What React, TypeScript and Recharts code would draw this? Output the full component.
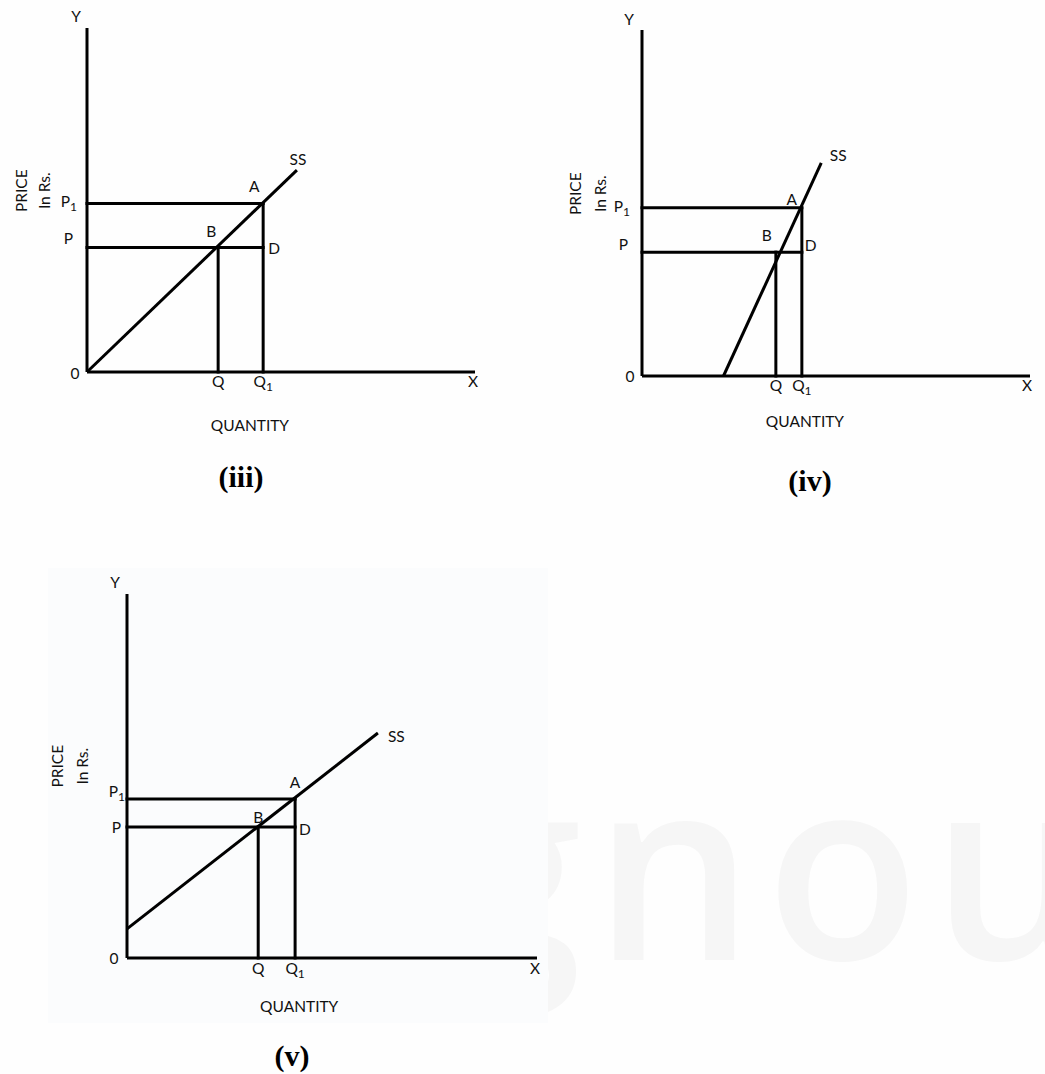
import React from 'react';
import { LineChart, Line, XAxis, YAxis, ReferenceDot } from 'recharts';

// both axes run 0..100 in every panel
const AXIS_MAX = 100;

// (iii) supply curve through the origin
const iiiPrices = [36.2, 49]; // P, P1
const iiiQuantities = [33.8, 45.4]; // Q, Q1
const iiiSupply = [{ x: 0, y: 0 }, { x: 54.1, y: 58.7 }];

// (iv) steep supply curve starting on the quantity axis
const ivPrices = [35.8, 48.6];
const ivQuantities = [34.5, 41.2];
const ivSupply = [{ x: 21, y: 0 }, { x: 46.2, y: 61.6 }];

// (v) flat supply curve starting on the price axis
const vPrices = [36, 43.7];
const vQuantities = [32, 41];
const vSupply = [{ x: 0, y: 8 }, { x: 61.2, y: 61.8 }];

const priceLabels = ['P', 'P1'];
const quantityLabels = ['Q', 'Q1'];
const pointLabels = ['A', 'B', 'D', 'SS'];

const FONT = 'Lato, "Open Sans", sans-serif';
const SERIF = '"Liberation Serif", "Times New Roman", serif';
const INK = '#000';
const TEXT = '#111';
const LABEL_SIZE = 15.5;
// axes get a 1px box; margins below are already reduced by it
const AXIS_BOX = 1;

type Off = [number, number];
type Anchor = 'start' | 'middle' | 'end';

interface PanelStyle {
  left: number;
  top: number;
  width: number;
  height: number;
  margin: { top: number; right: number; bottom: number; left: number };
  caption: string;
  captionAt: Off;
  quantityTitleDy: number;
  priceTitleX: Off;
  priceTick: Off[];
  qtyDy: number;
  zeroOff: Off;
  xOff: Off;
  yOff: Off;
  pointOff: Off[];
  pointAnchor: Anchor[];
}

const iiiStyle: PanelStyle = {
  left: 0, top: 0, width: 520, height: 500,
  margin: { top: 28, right: 45, bottom: 127, left: 86 },
  caption: '(iii)', captionAt: [154, 115],
  quantityTitleDy: 59, priceTitleX: [-60, -37],
  priceTick: [[-14, -3], [-10, 4]], qtyDy: 16,
  zeroOff: [-12, 8], xOff: [-2, 16], yOff: [-11, -6],
  pointOff: [[-9, -11], [-7, -10], [5, 7], [1, -5]],
  pointAnchor: ['middle', 'middle', 'start', 'middle'],
};

const ivStyle: PanelStyle = {
  left: 520, top: 0, width: 525, height: 500,
  margin: { top: 30, right: 15, bottom: 123, left: 121 },
  caption: '(iv)', captionAt: [168, 115],
  quantityTitleDy: 51, priceTitleX: [-61, -36],
  priceTick: [[-14, -2], [-12, 4]], qtyDy: 16,
  zeroOff: [-12, 7], xOff: [-3, 16], yOff: [-13, -5],
  pointOff: [[-10, -3], [-9, -11], [3, -1], [17, -2]],
  pointAnchor: ['middle', 'middle', 'start', 'middle'],
};

const vStyle: PanelStyle = {
  left: 0, top: 520, width: 600, height: 554,
  margin: { top: 74, right: 63, bottom: 115, left: 126 },
  caption: '(v)', captionAt: [165, 108],
  quantityTitleDy: 54, priceTitleX: [-64, -39],
  priceTick: [[-6, 6], [-2, -2]], qtyDy: 17,
  zeroOff: [-13, 7], xOff: [-2, 17], yOff: [-12, -6],
  pointOff: [[0, -11], [0, -4], [4, 8], [10, 9]],
  pointAnchor: ['middle', 'middle', 'start', 'start'],
};

function Sub({ x, y, text, anchor = 'middle', size = LABEL_SIZE }: { x: number; y: number; text: string; anchor?: Anchor; size?: number }) {
  const m = /^([A-Z]+)(\d)$/.exec(text);
  return (
    <text x={x} y={y} textAnchor={anchor} fontSize={size} fill={TEXT} fontFamily={FONT}>
      {m ? (
        <>
          {m[1]}
          <tspan fontSize={Math.round(size * 0.75)} dy={4}>{m[2]}</tspan>
        </>
      ) : text}
    </text>
  );
}

function Panel({ s, prices, quantities, supply }: { s: PanelStyle; prices: number[]; quantities: number[]; supply: { x: number; y: number }[] }) {
  const [P, P1] = prices;
  const [Q, Q1] = quantities;
  const xTicks = [0, Q, Q1, AXIS_MAX];
  const yTicks = [P, P1, AXIS_MAX];

  const segments = [
    supply,
    [{ x: 0, y: P1 }, { x: Q1, y: P1 }],
    [{ x: 0, y: P }, { x: Q1, y: P }],
    [{ x: Q, y: 0 }, { x: Q, y: P }],
    [{ x: Q1, y: 0 }, { x: Q1, y: P1 }],
  ];
  const points = [{ x: Q1, y: P1 }, { x: Q, y: P }, { x: Q1, y: P }, supply[supply.length - 1]];

  // tick y sits AXIS_BOX below the axis line
  const xTick = (props: any) => {
    const { x, payload } = props;
    const y = props.y - AXIS_BOX;
    const i = xTicks.indexOf(payload.value);
    if (i === 0) return <Sub x={x + s.zeroOff[0]} y={y + s.zeroOff[1]} text="0" />;
    if (i === xTicks.length - 1) return <Sub x={x + s.xOff[0]} y={y + s.xOff[1]} text="X" />;
    return <Sub x={x} y={y + s.qtyDy} text={quantityLabels[i - 1]} />;
  };

  const yTick = (props: any) => {
    const { x, y, payload } = props;
    const i = yTicks.indexOf(payload.value);
    if (i === yTicks.length - 1) return <Sub x={x + s.yOff[0]} y={y + s.yOff[1]} text="Y" />;
    const [dx, dy] = s.priceTick[i];
    return <Sub x={x + dx} y={y + dy} text={priceLabels[i]} anchor="end" />;
  };

  const xTitle = (lp: any) => {
    const vb = lp.viewBox;
    return (
      <g>
        <text x={vb.x + vb.width * 0.42} y={vb.y + s.quantityTitleDy} textAnchor="middle" fontSize={LABEL_SIZE} fill={TEXT} fontFamily={FONT}>
          QUANTITY
        </text>
        <text x={vb.x + s.captionAt[0]} y={vb.y + s.captionAt[1]} textAnchor="middle" fontSize={30} fontWeight="bold" fill="#000" fontFamily={SERIF}>
          {s.caption}
        </text>
      </g>
    );
  };

  const yTitle = (lp: any) => {
    const vb = lp.viewBox;
    const left = vb.x + vb.width;
    const cy = vb.y + vb.height * 0.473;
    const [a, b] = s.priceTitleX;
    return (
      <g fontSize={LABEL_SIZE} fill={TEXT} fontFamily={FONT}>
        <text x={left + a} y={cy} transform={`rotate(-90 ${left + a} ${cy})`} textAnchor="middle">PRICE</text>
        <text x={left + b} y={cy} transform={`rotate(-90 ${left + b} ${cy})`} textAnchor="middle">In Rs.</text>
      </g>
    );
  };

  return (
    <div style={{ position: 'absolute', left: s.left, top: s.top }}>
      <LineChart width={s.width} height={s.height} margin={s.margin}>
        <XAxis
          type="number"
          dataKey="x"
          domain={[0, AXIS_MAX]}
          ticks={xTicks}
          interval={0}
          height={AXIS_BOX}
          tickSize={0}
          tickMargin={0}
          tickLine={false}
          axisLine={{ stroke: INK, strokeWidth: 3 }}
          tick={xTick}
          label={xTitle}
        />
        <YAxis
          type="number"
          domain={[0, AXIS_MAX]}
          ticks={yTicks}
          interval={0}
          width={AXIS_BOX}
          tickSize={0}
          tickMargin={0}
          tickLine={false}
          axisLine={{ stroke: INK, strokeWidth: 3 }}
          tick={yTick}
          label={yTitle}
        />
        {segments.map((d, i) => (
          <Line
            key={i}
            data={d}
            dataKey="y"
            type="linear"
            stroke={INK}
            strokeWidth={3}
            strokeLinecap={i === 0 ? 'butt' : 'square'}
            dot={false}
            activeDot={false}
            isAnimationActive={false}
          />
        ))}
        {points.map((p, i) => (
          <ReferenceDot
            key={pointLabels[i]}
            x={p.x}
            y={p.y}
            r={0}
            fill="none"
            stroke="none"
            label={(lp: any) => {
              const vb = lp.viewBox;
              return (
                <Sub
                  x={vb.x + vb.width / 2 + s.pointOff[i][0]}
                  y={vb.y + vb.height / 2 + s.pointOff[i][1]}
                  text={pointLabels[i]}
                  anchor={s.pointAnchor[i]}
                />
              );
            }}
          />
        ))}
      </LineChart>
    </div>
  );
}

export default function App() {
  return (
    <div style={{ position: 'absolute', left: 0, top: 0, width: 1045, height: 1074, background: '#fefefe', overflow: 'hidden' }}>
      <svg width={1045} height={1074} style={{ position: 'absolute', left: 0, top: 0 }}>
        <text x={442} y={960} fontSize={252} fontWeight={600} letterSpacing={12} fill="#f6f6f6" fontFamily='"Open Sans", sans-serif'>
          gnou
        </text>
        <rect x={48} y={568} width={500} height={455} fill="#fbfcfd" />
      </svg>
      <Panel s={iiiStyle} prices={iiiPrices} quantities={iiiQuantities} supply={iiiSupply} />
      <Panel s={ivStyle} prices={ivPrices} quantities={ivQuantities} supply={ivSupply} />
      <Panel s={vStyle} prices={vPrices} quantities={vQuantities} supply={vSupply} />
    </div>
  );
}
